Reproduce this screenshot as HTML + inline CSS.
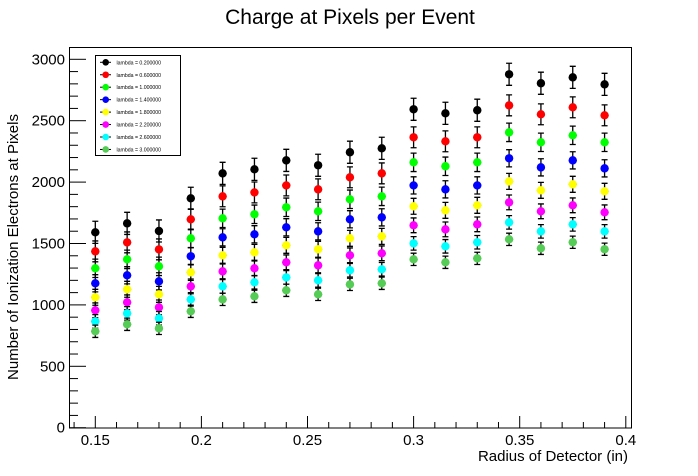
<!DOCTYPE html>
<html><head><meta charset="utf-8"><style>
body{margin:0;background:#fff;}
svg{display:block;font-family:"Liberation Sans",sans-serif;}
</style></head><body>
<svg id="chart" width="698" height="476">
<text x="350" y="24" font-size="21" text-anchor="middle">Charge at Pixels per Event</text>
<rect x="69.5" y="47.5" width="562" height="380.5" fill="none" stroke="#000" stroke-width="1"/>
<text transform="translate(18,247) rotate(-90)" font-size="15" text-anchor="middle">Number of Ionization Electrons at Pixels</text>
<text x="628" y="461" font-size="15" text-anchor="end">Radius of Detector (in)</text>
<g id="axes"></g>
<g id="marks"></g>
<g id="legend"></g>
</svg>
<script>
const radii=[0.15,0.165,0.18,0.195,0.21,0.225,0.24,0.255,0.27,0.285,0.30,0.315,0.33,0.345,0.36,0.375,0.39];
const labels=["lambda = 0.200000","lambda = 0.600000","lambda = 1.000000","lambda = 1.400000","lambda = 1.800000","lambda = 2.200000","lambda = 2.600000","lambda = 3.000000"];
const colors=["#000000","#ff0000","#00ff00","#0000ff","#ffff00","#ff00ff","#00ffff","#55cc55"];
const s0=[1591,1664,1602,1868,2071,2104,2177,2137,2243,2275,2593,2560,2585,2878,2805,2853,2796];
const s1=[1436,1509,1452,1697,1884,1916,1973,1941,2039,2071,2365,2332,2365,2625,2552,2609,2544];
const s2=[1298,1371,1314,1542,1705,1738,1795,1762,1860,1884,2161,2129,2161,2405,2324,2381,2324];
const s3=[1176,1241,1192,1396,1550,1575,1632,1599,1697,1713,1973,1941,1973,2194,2120,2177,2112];
const s4=[1062,1127,1086,1265,1404,1428,1485,1453,1542,1558,1803,1770,1811,2006,1933,1982,1925];
const s5=[956,1021,980,1151,1273,1298,1347,1322,1404,1420,1648,1615,1656,1835,1762,1811,1754];
const s6=[866,931,891,1045,1151,1184,1224,1200,1282,1290,1501,1477,1510,1672,1599,1656,1599];
const s7=[785,842,809,948,1045,1070,1119,1086,1167,1176,1371,1347,1379,1534,1461,1510,1453];
const series=[s0,s1,s2,s3,s4,s5,s6,s7];
const errs=[90,85,75,70,65,60,55,50];
const xTicks=[0.15,0.2,0.25,0.3,0.35,0.4];
const xTickLabels=["0.15","0.2","0.25","0.3","0.35","0.4"];
const yTicks=[0,500,1000,1500,2000,2500,3000];
const yTickLabels=["0","500","1000","1500","2000","2500","3000"];

const NS="http://www.w3.org/2000/svg";
const X=v=>95.3+(v-0.15)*(625.8-95.3)/0.25;
const Y=v=>427.7-v*(427.7-59.3)/3000;
function mk(tag,attrs,parent){const e=document.createElementNS(NS,tag);for(const k in attrs)e.setAttribute(k,attrs[k]);parent.appendChild(e);return e;}
const axes=document.getElementById('axes');
// x ticks
for(let i=0;i<=28;i++){
  const v=0.14+i*0.01; const x=X(v); if(x<69||x>632)continue;
  const major=Math.abs(((v*100)%5))<0.01||Math.abs(((v*100)%5)-5)<0.01;
  const t=mk('line',{x1:x,x2:x,y1:428,y2:major?416:422,stroke:'#000','stroke-width':1},axes);
  
  
}
xTicks.forEach((v,i)=>{
  const t=mk('text',{x:X(v),y:445,'font-size':15,'text-anchor':'middle'},axes);
  t.textContent=xTickLabels[i];
  
  
});
for(let v=0;v<=3000;v+=100){
  const y=Y(v); const major=v%500===0;
  const t=mk('line',{x1:70,x2:major?86:78,y1:y,y2:y,stroke:'#000','stroke-width':1},axes);
  
  
}
yTicks.forEach((v,i)=>{
  const t=mk('text',{x:65,y:Y(v)+5,'font-size':15,'text-anchor':'end'},axes);
  t.textContent=yTickLabels[i];
  
  
});
const marks=document.getElementById('marks');
series.forEach((s,si)=>{
  const g=mk('g',{},marks);
  
  
  s.forEach((v,i)=>{
    const x=X(radii[i]),y=Y(v),e=errs[si];
    const yt=Y(v+e),yb=Y(v-e);
    mk('path',{d:`M${x},${yt}V${yb}M${x-3},${yt}H${x+3}M${x-3},${yb}H${x+3}M${x-4},${y}H${x+4}`,stroke:'#000','stroke-width':1.3,fill:'none'},g);
    const c=mk('circle',{cx:x,cy:y,r:4.2,fill:colors[si]},g);
    
    
  });
});
const lg=document.getElementById('legend');
const box=mk('rect',{x:95.5,y:55.5,width:85,height:100,fill:'#fff',stroke:'#000','stroke-width':1},lg);


labels.forEach((l,i)=>{
  const y=62.3+i*12.45;
  const g=mk('g',{},lg);
  
  
  mk('line',{x1:100,x2:111,y1:y,y2:y,stroke:'#000','stroke-width':1},g);
  mk('circle',{cx:105.7,cy:y,r:3.3,fill:colors[i]},g);
  const t=mk('text',{x:116.5,y:y+2,'font-size':5.2},g);
  t.textContent=l;
});
</script>
</body></html>
